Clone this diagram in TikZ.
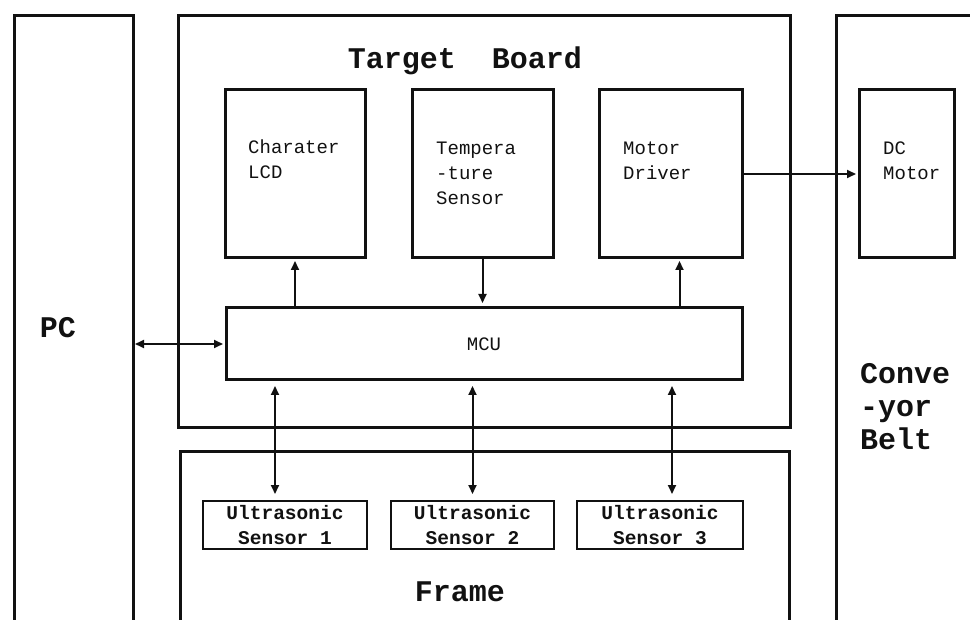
\documentclass[tikz,border=0pt]{standalone}
\usepackage{fontspec}
\setmonofont{Liberation Mono}
\usepackage{tikz}
\usetikzlibrary{calc,positioning,arrows.meta}
\definecolor{ink}{HTML}{111111}
\newcommand{\TitleF}{\fontsize{30}{33}\selectfont\ttfamily\bfseries}
\newcommand{\BoxF}{\fontsize{19}{25}\selectfont\ttfamily}
\newcommand{\SensF}{\fontsize{19.5}{25}\selectfont\ttfamily\bfseries}
\tikzset{
  >={Triangle[length=9pt,width=8pt]},
  zone/.style={draw=ink, line width=3pt, anchor=north west, inner sep=0pt, outer sep=0pt},
  unit/.style={draw=ink, line width=3pt, anchor=north west, inner sep=0pt, outer sep=0pt},
  sensbox/.style={draw=ink, line width=2.6pt, anchor=north west, inner sep=0pt, outer sep=0pt,
                  align=center, font=\SensF, text=ink},
  title/.style={font=\TitleF, text=ink, inner sep=0pt},
  utext/.style={font=\BoxF, text=ink, align=left, inner sep=0pt},
  flow/.style={->, line width=2pt, draw=ink},
  flowb/.style={<->, line width=2pt, draw=ink},
}
\begin{document}
\begin{tikzpicture}[x=1pt,y=-1pt]
  \useasboundingbox (0,0) rectangle (970,620);
  \clip (0,0) rectangle (970,620);
  % outer zones, open at the bottom of the page
  \node[zone, minimum width=119pt, minimum height=700pt] (pc) at (14,16) {};
  \node[zone, minimum width=612pt, minimum height=412pt] (tb) at (178,16) {};
  \node[zone, minimum width=609pt, minimum height=300pt] (frm) at (180,452) {};
  \node[zone, minimum width=200pt, minimum height=700pt] (belt) at (836,16) {};
  % units on the board
  \node[unit, minimum width=140pt, minimum height=168pt] (lcd) at (225,90) {};
  \node[unit, minimum width=141pt, minimum height=168pt, right=47pt of lcd] (temp) {};
  \node[unit, minimum width=143pt, minimum height=168pt, right=46pt of temp] (drv) {};
  \node[unit, minimum width=95pt, minimum height=168pt] (dcm) at (859,90) {};
  \node[unit, minimum width=516pt, minimum height=72pt, font=\BoxF, text=ink] (mcu) at (226,308) {MCU};
  % sensors on the frame
  \node[sensbox, minimum width=164pt, minimum height=48pt] (us1) at (203,501) {Ultrasonic\\Sensor 1};
  \node[sensbox, minimum width=163pt, minimum height=48pt, right=24pt of us1] (us2) {Ultrasonic\\Sensor 2};
  \node[sensbox, minimum width=166pt, minimum height=48pt, right=23pt of us2] (us3) {Ultrasonic\\Sensor 3};
  % labels
  \node[title] (tbt) at (465,61) {Target~~Board};
  \node[title] (pct) at (58,328) {PC};
  \node[title, align=left, anchor=north west] (beltt) at (860,363) {Conve\\-yor\\Belt};
  \node[title] (frmt) at (460,592) {Frame};
  \node[utext, below right=50pt and 23pt of lcd.north west] (lcdt) {Charater\\LCD};
  \node[utext, below right=52pt and 24pt of temp.north west] (tempt) {Tempera\\-ture\\Sensor};
  \node[utext, below right=52pt and 24pt of drv.north west] (drvt) {Motor\\Driver};
  \node[utext, below right=52pt and 24pt of dcm.north west] (dcmt) {DC\\Motor};
  % connectors
  \coordinate (drvin) at ($(drv.south)+(9,0)$);
  \coordinate (p1) at ($(us1.north)+(-10,0)$);
  \coordinate (p3) at ($(us3.north)+(12,0)$);
  \draw[flow, shorten >=3pt] (lcd.south |- mcu.north) -- (lcd.south);
  \draw[flow, shorten >=5pt] (temp.south) -- (temp.south |- mcu.north);
  \draw[flow, shorten >=3pt] (drvin |- mcu.north) -- (drvin);
  \draw[flow, shorten >=3pt] (drv) -- (dcm);
  \draw[flowb, shorten <=2pt, shorten >=3pt] (pc.east |- mcu.west) -- (mcu.west);
  \draw[flowb, shorten <=6pt, shorten >=7pt] (p1 |- mcu.south) -- (p1);
  \draw[flowb, shorten <=6pt, shorten >=7pt] (us2.north |- mcu.south) -- (us2.north);
  \draw[flowb, shorten <=6pt, shorten >=7pt] (p3 |- mcu.south) -- (p3);
\end{tikzpicture}
\end{document}
